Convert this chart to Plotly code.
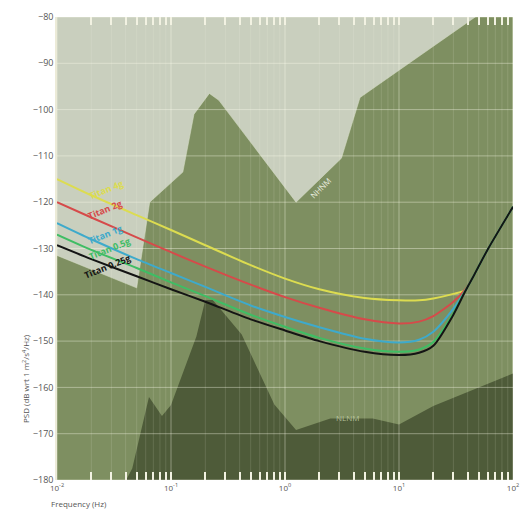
import numpy as np
import plotly.graph_objects as go

# ---------------- data ----------------
nhnm_freq = [0.01, 0.05, 0.065, 0.127, 0.159, 0.217, 0.263, 1.25, 3.125, 4.55, 10, 100]
nhnm_db = [-131.5, -138.5, -120.0, -113.5, -101.0, -96.5, -98.0, -120.0, -110.5, -97.4, -91.5, -74.3]

nlnm_freq = [0.01, 0.0316, 0.0457, 0.0641, 0.0833, 0.1, 0.167, 0.2, 0.2326, 0.417, 0.806,
             1.25, 2.5, 5.88, 10, 20, 100]
nlnm_db = [-185.0, -185.0, -177.5, -162.1, -166.2, -163.8, -149.0, -141.1, -141.1, -148.6, -163.7,
           -169.2, -166.7, -166.7, -168.0, -164.0, -157.0]

titan_freq = [0.01, 0.02, 0.05, 0.1, 0.2, 0.5, 1, 2, 5, 10, 15, 20, 30, 38, 45, 60, 100]
titan_4g = [-115, -118.5, -122.8, -126, -129.3, -133.6, -136.5, -138.8, -140.7, -141.2, -141.2,
            -140.8, -139.8, -139.0, -136, -130.2, -121]
titan_2g = [-120, -123.3, -127.6, -130.8, -133.9, -137.8, -140.5, -142.8, -145.3, -146.2, -145.8,
            -144.6, -141.5, -138.9, -136, -130.2, -121]
titan_1g = [-124.5, -128, -132.3, -135.3, -138.3, -142.3, -144.8, -147, -149.5, -150.3, -149.7,
            -148, -143, -139.2, -136, -130.2, -121]
titan_05g = [-127, -130.3, -134.2, -137.3, -140.3, -144.3, -146.9, -149.3, -151.6, -152.3, -151.8,
             -150.2, -144, -139.2, -136, -130.2, -121]
titan_025g = [-129.3, -132.3, -136, -138.8, -141.5, -145.3, -147.7, -150, -152.3, -153, -152.5,
              -151, -144.3, -139.3, -136, -130.2, -121]

series_names = ["Titan 4g", "Titan 2g", "Titan 1g", "Titan 0.5g", "Titan 0.25g"]
series_values = [titan_4g, titan_2g, titan_1g, titan_05g, titan_025g]
series_colors = ["#dcdc50", "#d64a4a", "#3eaacb", "#3fbd64", "#141414"]

decades = [0.01, 0.1, 1, 10, 100]
decade_labels = ["10<sup>-2</sup>", "10<sup>-1</sup>", "10<sup>0</sup>", "10<sup>1</sup>", "10<sup>2</sup>"]
y_tick_vals = [-80, -90, -100, -110, -120, -130, -140, -150, -160, -170, -180]

FLOOR = -200
BG_LIGHT = "rgb(201,207,190)"
MID = "rgb(126,143,97)"
DARK = "rgb(78,91,57)"
FONT = "Open Sans"

minor_freqs = [d * m for d in decades[:-1] for m in range(2, 10)]
# tick positions: decades get labels, the 2..9 positions are unlabeled tick marks
x_tick_vals = decades + minor_freqs
x_tick_text = decade_labels + [""] * len(minor_freqs)

fig = go.Figure()

# NHNM region (everything below the high-noise model)
fig.add_trace(go.Scatter(
    x=nhnm_freq + [nhnm_freq[-1], nhnm_freq[0]],
    y=nhnm_db + [FLOOR, FLOOR],
    fill="toself", fillcolor=MID, mode="lines",
    line=dict(width=0.8, color="rgba(215,222,200,0.7)"), hoverinfo="skip", showlegend=False))

# NLNM region
fig.add_trace(go.Scatter(
    x=nlnm_freq + [nlnm_freq[-1], nlnm_freq[0]],
    y=nlnm_db + [FLOOR, FLOOR],
    fill="toself", fillcolor=DARK, mode="lines",
    line=dict(width=0), hoverinfo="skip", showlegend=False))

# grid lines drawn above the filled regions
gx, gy = [], []
for d in decades:
    gx += [d, d, None]
    gy += [-180, -80, None]
for v in y_tick_vals:
    gx += [0.01, 100, None]
    gy += [v, v, None]
fig.add_trace(go.Scatter(x=gx, y=gy, mode="lines",
                         line=dict(color="rgba(255,255,240,0.38)", width=1),
                         hoverinfo="skip", showlegend=False))
mx, my = [], []
for f in minor_freqs:
    mx += [f, f, None]
    my += [-180, -80, None]
fig.add_trace(go.Scatter(x=mx, y=my, mode="lines",
                         line=dict(color="rgba(255,255,240,0.13)", width=1),
                         hoverinfo="skip", showlegend=False))

for name, vals, col in zip(series_names, series_values, series_colors):
    fig.add_trace(go.Scatter(x=titan_freq, y=vals, mode="lines", name=name,
                             line=dict(color=col, width=2, shape="spline", smoothing=0.7),
                             showlegend=False))

# curve labels
label_pos = [(0.0268, -117.2), (0.0263, -121.6), (0.0263, -126.9), (0.0290, -130.1), (0.0275, -133.9)]
annotations = []
for name, col, (lf, ldb) in zip(series_names, series_colors, label_pos):
    annotations.append(dict(x=np.log10(lf), y=ldb, xref="x", yref="y", text="<b>%s</b>" % name,
                            showarrow=False, textangle=-22,
                            font=dict(family=FONT, size=9, color=col)))

annotations.append(dict(x=np.log10(2.06), y=-116.9, xref="x", yref="y", text="NHNM",
                        showarrow=False, textangle=-45,
                        font=dict(family=FONT, size=8, color="rgba(240,242,228,0.95)")))
annotations.append(dict(x=np.log10(3.55), y=-166.4, xref="x", yref="y", text="NLNM",
                        showarrow=False,
                        font=dict(family=FONT, size=8, color="rgba(190,202,165,0.9)")))
annotations.append(dict(x=(18 - 57) / 456, y=(480 - 425) / 463, xref="paper", yref="paper",
                        text="PSD (dB wrt 1 m<sup>2</sup>/s<sup>4</sup>/Hz)", showarrow=False,
                        textangle=-90, font=dict(family=FONT, size=8, color="#555")))
annotations.append(dict(x=(49 - 57) / 456, y=(480 - 503) / 463, xref="paper", yref="paper",
                        xanchor="left", yanchor="middle", text="Frequency (Hz)", showarrow=False,
                        font=dict(family=FONT, size=8, color="#555")))

fig.update_layout(
    width=524, height=512,
    margin=dict(l=57, r=11, t=17, b=32),
    paper_bgcolor="white", plot_bgcolor=BG_LIGHT,
    font=dict(family=FONT, size=9, color="#555"),
    annotations=annotations,
    showlegend=False,
)
fig.update_layout(
    xaxis=dict(type="log", range=[-2, 2], showgrid=False, zeroline=False, automargin=False,
               tickvals=x_tick_vals, ticktext=x_tick_text,
               ticks="inside", ticklen=8, tickwidth=1.5, tickcolor="#f2f2e2",
               mirror="ticks", showline=True, linecolor="rgba(0,0,0,0)", linewidth=1,
               tickfont=dict(family=FONT, size=8, color="#555")),
    yaxis=dict(range=[-180, -80], showgrid=False, zeroline=False, automargin=False,
               tickvals=y_tick_vals, ticks="", showline=True, linecolor="#ecebd8",
               linewidth=1.5, tickfont=dict(family=FONT, size=9, color="#555")),
)

fig.write_html("out.html", config={"displayModeBar": False},
               post_script="document.body.style.margin='0';document.body.style.overflow='hidden';")
